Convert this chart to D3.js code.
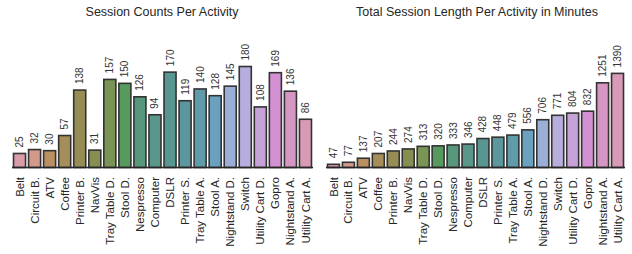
<!DOCTYPE html>
<html>
<head>
<meta charset="utf-8">
<script src="https://cdn.jsdelivr.net/npm/d3@7"></script>
<style>
body { margin: 0; background: #fff; }
text { font-family: "Liberation Sans", Arial, sans-serif; fill: #262626; }
</style>
</head>
<body>
<div id="chart"></div>
<script>
var activities = ["Belt", "Circuit B.", "ATV", "Coffee", "Printer B.", "NavVis", "Tray Table D.",
    "Stool D.", "Nespresso", "Computer", "DSLR", "Printer S.", "Tray Table A.", "Stool A.",
    "Nightstand D.", "Switch", "Utility Cart D.", "Gopro", "Nightstand A.", "Utility Cart A."];
var sessionCounts = [25, 32, 30, 57, 138, 31, 157, 150, 126, 94, 170, 119, 140, 128, 145, 180, 108, 169, 136, 86];
var sessionMinutes = [47, 77, 137, 207, 244, 274, 313, 320, 333, 346, 428, 448, 479, 556, 706, 771, 804, 832, 1251, 1390];

var svgWidth = 632;
var svgHeight = 254;

var svg = d3.select("#chart")
    .append("svg")
    .attr("width", svgWidth)
    .attr("height", svgHeight);

// husl palette like seaborn, then desaturated
var M = [[3.2406, -1.5372, -0.4986], [-0.9689, 1.8758, 0.0415], [0.0557, -0.2040, 1.0570]];
function maxChroma(L, H) {
    var hrad = H / 360 * Math.PI * 2;
    var sinH = Math.sin(hrad), cosH = Math.cos(hrad);
    var sub1 = Math.pow(L + 16, 3) / 1560896;
    var sub2 = sub1 > 0.0088564516 ? sub1 : L / 903.2962962;
    var result = Infinity;
    M.forEach(function(row) {
        var m1 = row[0], m2 = row[1], m3 = row[2];
        var top = (0.99915 * m1 + 1.05122 * m2 + 1.14460 * m3) * sub2;
        var rbottom = 0.86330 * m3 - 0.17266 * m2;
        var lbottom = 0.12949 * m3 - 0.38848 * m1;
        var bottom = (rbottom * sinH + lbottom * cosH) * sub2;
        [0, 1].forEach(function(t) {
            var C = L * (top - 1.05122 * t) / (bottom + 0.17266 * sinH * t);
            if (C > 0 && C < result) result = C;
        });
    });
    return result;
}
function huslToRgb(H, S, L) {
    var C = maxChroma(L, H) / 100 * S;
    var hrad = H / 180 * Math.PI;
    var U = Math.cos(hrad) * C, V = Math.sin(hrad) * C;
    var varY = L > 8 ? Math.pow((L + 16) / 116, 3) : L / 903.2962962;
    var varU = U / (13 * L) + 0.19784;
    var varV = V / (13 * L) + 0.46834;
    var Y = varY;
    var X = -(9 * Y * varU) / ((varU - 4) * varV - varU * varV);
    var Z = (9 * Y - 15 * varV * Y - varV * X) / (3 * varV);
    return M.map(function(row) {
        var c = row[0] * X + row[1] * Y + row[2] * Z;
        c = c <= 0.0031308 ? 12.92 * c : 1.055 * Math.pow(c, 1 / 2.4) - 0.055;
        return Math.max(0, Math.min(1, c)) * 255;
    });
}
var palette = activities.map(function(d, i) {
    var h = ((i / activities.length + 0.01) % 1) * 359;
    var rgb = huslToRgb(h, 0.9 * 99, 0.68 * 99);
    var c = d3.hsl(d3.rgb(rgb[0], rgb[1], rgb[2]));
    c.s = c.s * 0.5;
    return c.formatHex();
});

function drawPanel(values, title, x0, x1, pxPerUnit, titleX) {
    var baseY = 167.5;
    var g = svg.append("g");

    var xScale = d3.scaleBand()
        .domain(activities)
        .range([x0, x1])
        .paddingInner(0.2)
        .paddingOuter(0.1);

    var yMax = (baseY - 20) / pxPerUnit;
    var yScale = d3.scaleLinear()
        .domain([0, yMax])
        .range([baseY, 20]);

    g.selectAll("rect")
        .data(values)
        .enter()
        .append("rect")
        .attr("x", (d, i) => xScale(activities[i]))
        .attr("width", xScale.bandwidth())
        .attr("y", d => yScale(d))
        .attr("height", d => baseY - yScale(d))
        .attr("fill", (d, i) => palette[i])
        .attr("stroke", "#333")
        .attr("stroke-width", 1.6);

    // value labels
    g.selectAll(".val")
        .data(values)
        .enter()
        .append("text")
        .attr("class", "val")
        .attr("transform", (d, i) => `translate(${xScale(activities[i]) + xScale.bandwidth() / 2 + 3.5},${yScale(d) - 6}) rotate(-90)`)
        .style("font-size", "10px")
        .style("fill", "#333")
        .text(d => d);

    // bottom axis
    var bottomAxis = d3.axisBottom(xScale).tickSize(0).tickPadding(0);
    var axisG = g.append("g")
        .attr("transform", `translate(0,${baseY})`)
        .call(bottomAxis);
    axisG.select(".domain")
        .attr("d", `M${x0},0H${x1}`)
        .attr("stroke", "#262626")
        .attr("stroke-width", 1.5);
    axisG.selectAll("text")
        .attr("transform", "rotate(-90)")
        .attr("x", -9.5)
        .attr("y", 0)
        .attr("dy", "0.35em")
        .style("text-anchor", "end")
        .style("font-size", "11.5px")
        .style("font-family", "'Liberation Sans', Arial, sans-serif")
        .style("fill", "#262626");

    g.append("text")
        .attr("x", titleX)
        .attr("y", 16)
        .style("text-anchor", "middle")
        .style("font-size", "12.5px")
        .text(title);
}

drawPanel(sessionCounts, "Session Counts Per Activity", 12, 313, 0.561, 162);
drawPanel(sessionMinutes, "Total Session Length Per Activity in Minutes", 326, 625, 0.0677, 477);
</script>
</body>
</html>
